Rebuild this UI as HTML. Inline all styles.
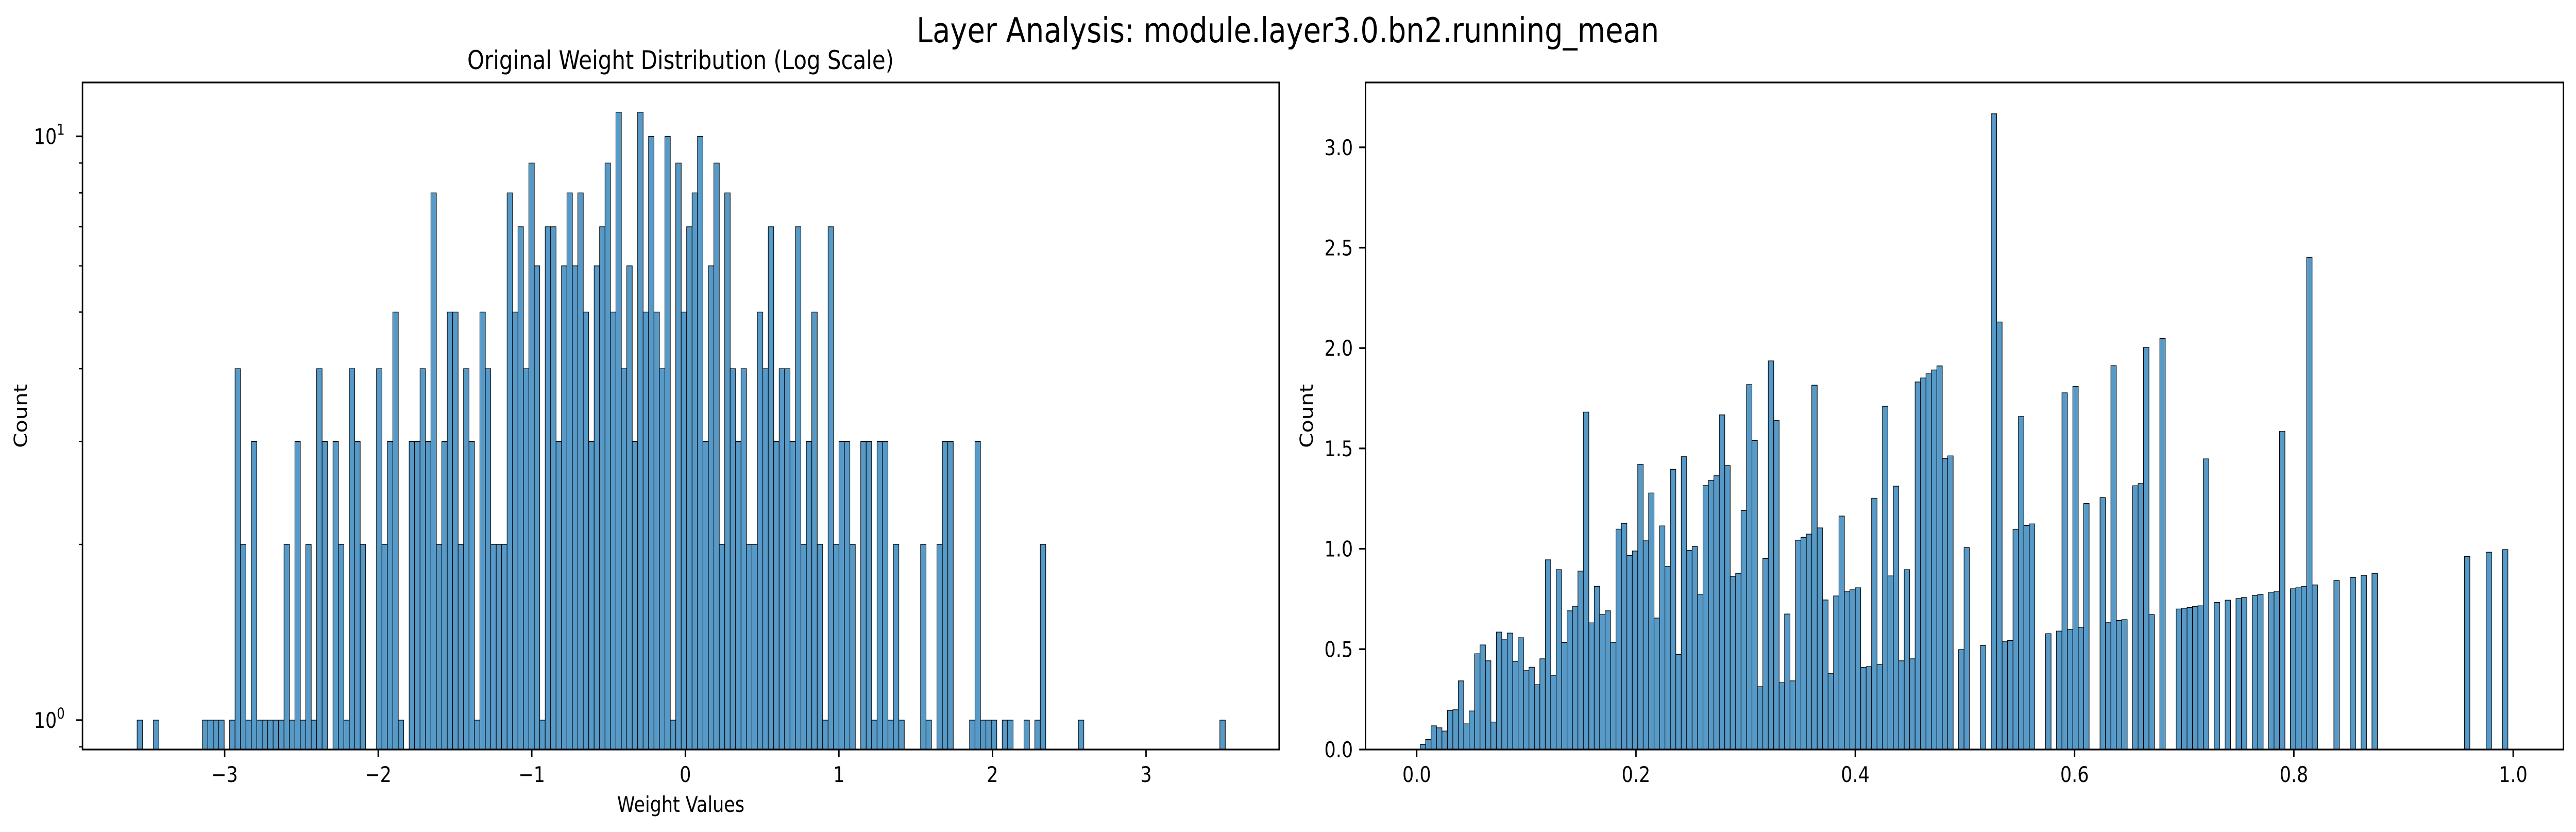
<!DOCTYPE html>
<html><head><meta charset="utf-8">
<style>
html,body{margin:0;padding:0;background:#fff;overflow:hidden;width:100%;height:100%;}
svg{display:block;width:100vw;height:100vh;font-family:"DejaVu Sans","Liberation Sans",sans-serif;}
</style></head>
<body>
<svg id="fig" viewBox="0 0 5965 1614" preserveAspectRatio="none" xmlns="http://www.w3.org/2000/svg">
<rect width="5965" height="1614" fill="#fff"/>
<text x="2982" y="82" font-size="66.7" text-anchor="middle">Layer Analysis: module.layer3.0.bn2.running_mean</text>
<text x="1576" y="134" font-size="50" text-anchor="middle">Original Weight Distribution (Log Scale)</text>
<g id="left"></g>
<g id="right"></g>
</svg>
<script>
// ---- Left chart data (log-scale histogram counts) ----
const leftBinStart = -3.57;
const leftBinWidth = 0.03543;
const leftCounts = [
1,0,0,1,0,0,0,0,0,0,0,0,1,1,1,1,0,1,4,2,
1,3,1,1,1,1,1,2,1,3,1,2,1,4,3,0,3,2,1,4,
3,2,0,0,4,2,3,5,1,0,3,3,4,3,8,2,3,5,5,2,
4,3,1,5,4,2,2,2,8,5,7,4,9,6,1,7,7,3,6,8,
6,8,5,3,6,7,9,5,11,4,6,3,11,5,10,5,4,10,1,9,
5,7,8,10,3,6,9,2,8,4,3,4,2,2,5,4,7,3,4,4,
3,7,2,3,5,2,1,7,2,3,3,2,0,3,3,1,3,3,1,2,
1,0,0,0,2,1,0,2,3,3,0,0,0,1,3,1,1,1,0,1,
1,0,0,1,0,1,2,0,0,0,0,0,0,1,0,0,0,0,0,0,
0,0,0,0,0,0,0,0,0,0,0,0,0,0,0,0,0,0,0,1];
const leftXTicks = [-3,-2,-1,0,1,2,3];
const leftXTickLabels = ["\u22123","\u22122","\u22121","0","1","2","3"];
const leftYMajor = [1,10];
const leftYMajorExp = ["0","1"];
const leftYMinor = [0.9,2,3,4,5,6,7,8,9];

// ---- Right chart data ----
const rightBinStart = 0.0032;
const rightBinWidth = 0.00496;
const rightValues = [
.025,.050,.118,.108,.092,.195,.198,.342,.128,.192,
.477,.521,.442,.137,.585,.547,.580,.439,.557,.393,
.410,.323,.452,.945,.370,.896,.533,.691,.714,.889,
1.681,.631,.813,.672,.691,.534,1.098,1.127,.967,.989,
1.421,1.040,1.278,.655,1.114,.912,1.396,.474,1.459,.992,
1.011,.774,1.315,1.341,1.364,1.667,1.415,.863,.878,1.191,
1.818,1.540,.313,.952,1.936,1.639,.333,.675,.342,1.043,
1.057,1.073,1.815,1.104,.745,.378,.765,1.163,.786,.796,
.806,.409,.413,1.252,.423,1.710,.865,1.312,.442,.896,
.452,1.831,1.851,1.872,1.891,1.911,1.449,1.463,0,.498,
1.006,0,0,.518,0,3.167,2.130,.537,.543,1.097,
1.659,1.116,1.124,0,0,.577,0,.590,1.777,.598,
1.809,.609,1.226,0,0,1.255,.632,1.912,.643,.647,
0,1.314,1.325,2.003,.672,0,2.048,0,0,.700,
.704,.708,.712,.716,1.448,0,.733,0,.744,0,
.752,.757,0,.768,.773,0,.784,.789,1.585,0,
.801,.806,.812,2.452,.820,0,0,0,.842,0,
0,.857,0,.868,0,.878,0,0,0,0,
0,0,0,0,0,0,0,0,0,0,
0,0,.962,0,0,0,.983,0,0,.996];
const rightXTicks = [0,0.2,0.4,0.6,0.8,1.0];
const rightXTickLabels = ["0.0","0.2","0.4","0.6","0.8","1.0"];
const rightYTicks = [0,0.5,1,1.5,2,2.5,3];
const rightYTickLabels = ["0.0","0.5","1.0","1.5","2.0","2.5","3.0"];

const NS = "http://www.w3.org/2000/svg";
function mk(parent, tag, attrs){
  const e = document.createElementNS(NS, tag);
  for (const k in attrs) e.setAttribute(k, attrs[k]);
  parent.appendChild(e);
  return e;
}
const FILL = "#5799c7";
const TOP = 160, BOT = 1454;

// ---------- LEFT ----------
(function(){
  const g = document.getElementById('left');
  const L = 191, R = 2962;
  const x = v => 1587 + v * 355.6;
  const y = c => 1397 - Math.log10(c) * 1132.5;
  const bars = mk(g, 'g', {});
  
  
  leftCounts.forEach((c, i) => {
    if (c <= 0) return;
    const x0 = x(leftBinStart + i * leftBinWidth), x1 = x(leftBinStart + (i + 1) * leftBinWidth);
    const yt = y(c);
    const r = mk(bars, 'rect', {x: x0, y: yt, width: x1 - x0, height: BOT - yt, fill: FILL, stroke: '#000', 'stroke-width': 1.3});
    
    
  });
  const sp = mk(g, 'rect', {x: L, y: TOP, width: R - L, height: BOT - TOP, fill: 'none', stroke: '#000', 'stroke-width': 3.3});
  
  
  leftXTicks.forEach((v, i) => {
    const xx = x(v);
    mk(g, 'line', {x1: xx, x2: xx, y1: BOT, y2: BOT + 14.6, stroke: '#000', 'stroke-width': 3.3});
    const t = mk(g, 'text', {x: xx, y: 1517, 'font-size': 41.7, 'text-anchor': 'middle'});
    t.textContent = leftXTickLabels[i];
    
    
  });
  leftYMajor.forEach((v, i) => {
    const yy = y(v);
    mk(g, 'line', {x1: L - 14.6, x2: L, y1: yy, y2: yy, stroke: '#000', 'stroke-width': 3.3});
    const t = mk(g, 'text', {x: 150, y: yy + 15, 'font-size': 41.7, 'text-anchor': 'end'});
    t.textContent = '10';
    const s = mk(t, 'tspan', {dy: -18, 'font-size': 29});
    s.textContent = leftYMajorExp[i];
    
    
  });
  leftYMinor.forEach(v => {
    const yy = y(v);
    if (yy < TOP || yy > BOT) return;
    mk(g, 'line', {x1: L - 8.3, x2: L, y1: yy, y2: yy, stroke: '#000', 'stroke-width': 2.5});
  });
  const xl = mk(g, 'text', {x: (L + R) / 2, y: 1575, 'font-size': 41.7, 'text-anchor': 'middle'});
  xl.textContent = 'Weight Values';
  
  
  const yl = mk(g, 'text', {x: 0, y: 0, 'font-size': 41.7, 'text-anchor': 'middle', transform: 'translate(62,807) rotate(-90)'});
  yl.textContent = 'Count';
  
  
})();

// ---------- RIGHT ----------
(function(){
  const g = document.getElementById('right');
  const L = 3162, R = 5936;
  const x = v => 3280.5 + v * 2539;
  const y = v => BOT - v * 389.4;
  const bars = mk(g, 'g', {});
  
  
  rightValues.forEach((v, i) => {
    if (v <= 0) return;
    const x0 = x(rightBinStart + i * rightBinWidth), x1 = x(rightBinStart + (i + 1) * rightBinWidth);
    const yt = y(v);
    const r = mk(bars, 'rect', {x: x0, y: yt, width: x1 - x0, height: BOT - yt, fill: FILL, stroke: '#000', 'stroke-width': 1.3});
    
    
  });
  const sp = mk(g, 'rect', {x: L, y: TOP, width: R - L, height: BOT - TOP, fill: 'none', stroke: '#000', 'stroke-width': 3.3});
  
  
  rightXTicks.forEach((v, i) => {
    const xx = x(v);
    mk(g, 'line', {x1: xx, x2: xx, y1: BOT, y2: BOT + 14.6, stroke: '#000', 'stroke-width': 3.3});
    const t = mk(g, 'text', {x: xx, y: 1517, 'font-size': 41.7, 'text-anchor': 'middle'});
    t.textContent = rightXTickLabels[i];
    
    
  });
  rightYTicks.forEach((v, i) => {
    const yy = y(v);
    mk(g, 'line', {x1: L - 14.6, x2: L, y1: yy, y2: yy, stroke: '#000', 'stroke-width': 3.3});
    const t = mk(g, 'text', {x: L - 29, y: yy + 15, 'font-size': 41.7, 'text-anchor': 'end'});
    t.textContent = rightYTickLabels[i];
    
    
  });
  const yl = mk(g, 'text', {x: 0, y: 0, 'font-size': 41.7, 'text-anchor': 'middle', transform: 'translate(3040,807) rotate(-90)'});
  yl.textContent = 'Count';
  
  
})();
</script>
</body></html>
